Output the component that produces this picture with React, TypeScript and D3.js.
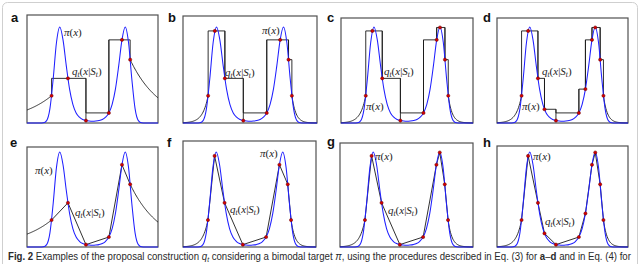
import React, { useLayoutEffect, useRef, useState } from 'react';
import * as d3 from 'd3';

// Target density pi(x) on a 0.2 grid over [-4, 4]
const targetX = d3.range(41).map((i) => +(-4 + i * 0.2).toFixed(1));
const targetY = [
  0, 0, 0, 0, 0, 0.002, 0.025, 0.149, 0.461, 0.838, 1.0, 0.866, 0.595, 0.353, 0.194, 0.105,
  0.06, 0.036, 0.025, 0.02, 0.018, 0.02, 0.025, 0.036, 0.06, 0.105, 0.194, 0.353, 0.595, 0.866,
  1.0, 0.838, 0.461, 0.149, 0.025, 0.002, 0, 0, 0, 0, 0,
];

// Support points S_t (red dots) and their pi values
const nodesA = [-2.5, -1.5, -0.4, 1.0, 1.8, 2.3];
const valuesA = [0.284, 0.465, 0.025, 0.105, 0.866, 0.66];
const nodesB = [-2.5, -2.1, -1.5, -0.4, 1.0, 1.8, 2.3, 2.5];
const valuesB = [0.284, 0.959, 0.465, 0.025, 0.105, 0.866, 0.66, 0.284];
const nodesC = [-2.5, -2.1, -1.5, -0.4, 1.0, 1.8, 2.0, 2.3, 2.5];
const valuesC = [0.284, 0.959, 0.465, 0.025, 0.105, 0.866, 0.995, 0.66, 0.284];
const nodesD = [-2.5, -2.1, -1.5, -1.1, -0.4, 1.0, 1.4, 1.8, 2.0, 2.3, 2.5];
const valuesD = [0.284, 0.959, 0.465, 0.143, 0.025, 0.105, 0.353, 0.866, 0.995, 0.66, 0.284];

const panelLetters = ['a', 'b', 'c', 'd', 'e', 'f', 'g', 'h'];
const panelKinds = ['step', 'step', 'step', 'step', 'linear', 'linear', 'linear', 'linear'];
const panelNodes = [nodesA, nodesB, nodesC, nodesD, nodesA, nodesB, nodesC, nodesD];
const panelValues = [valuesA, valuesB, valuesC, valuesD, valuesA, valuesB, valuesC, valuesD];
const xDomain = [-4, 4];

// Layout (pixels)
const layout = [
  { left: 27, right: 158, top: 15, bottom: 123, peak: 27, lx: 11, ly: 22, pi: [64, 36], q: [72, 75] },
  { left: 183, right: 317, top: 16, bottom: 123, peak: 27, lx: 168, ly: 22, pi: [262, 34], q: [225, 76] },
  { left: 341, right: 473, top: 18, bottom: 123, peak: 27, lx: 327, ly: 22, pi: [366, 110], q: [384, 75] },
  { left: 497, right: 628, top: 18, bottom: 123, peak: 27, lx: 483, ly: 22, pi: [522, 110], q: [542, 75] },
  { left: 27, right: 158, top: 147, bottom: 247, peak: 152, lx: 10, ly: 147, pi: [35, 174], q: [75, 216] },
  { left: 183, right: 316, top: 141, bottom: 247, peak: 152, lx: 167, ly: 147, pi: [260, 157], q: [230, 213] },
  { left: 340, right: 473, top: 143, bottom: 247, peak: 152, lx: 327, ly: 146, pi: [375, 160], q: [388, 214] },
  { left: 497, right: 628, top: 146, bottom: 247, peak: 152, lx: 483, ly: 147, pi: [533, 160], q: [545, 225] },
];

const MATH_FONT = '"Liberation Serif", "DejaVu Serif", serif';
const SANS = '"Liberation Sans", Arial, sans-serif';

function PiLabel({ x, y }: { x: number; y: number }) {
  return (
    <text x={x} y={y} fontFamily={MATH_FONT} fontSize={11} fill="#222">
      <tspan fontStyle="italic">π</tspan>
      <tspan>(</tspan>
      <tspan fontStyle="italic">x</tspan>
      <tspan>)</tspan>
    </text>
  );
}

function QLabel({ x, y }: { x: number; y: number }) {
  return (
    <text x={x} y={y} fontFamily={MATH_FONT} fontSize={11} fill="#222">
      <tspan fontStyle="italic">q</tspan>
      <tspan fontStyle="italic" fontSize={7.5} dy={2}>t</tspan>
      <tspan dy={-2}>(</tspan>
      <tspan fontStyle="italic">x</tspan>
      <tspan>|</tspan>
      <tspan fontStyle="italic">S</tspan>
      <tspan fontStyle="italic" fontSize={7.5} dy={2}>t</tspan>
      <tspan dy={-2}>)</tspan>
    </text>
  );
}

function Panel({ i }: { i: number }) {
  const L = layout[i];
  const xs = d3.scaleLinear().domain(xDomain).range([L.left, L.right]);
  const ys = d3.scaleLinear().domain([0, 1]).range([L.bottom, L.peak]);
  const nodes = panelNodes[i];
  const vals = panelValues[i];
  const n = nodes.length;
  const kind = panelKinds[i];

  const lamL = Math.log(vals[1] / vals[0]) / (nodes[1] - nodes[0]);
  const lamR = Math.log(vals[n - 2] / vals[n - 1]) / (nodes[n - 1] - nodes[n - 2]);
  const tailL = d3.range(41).map((k) => {
    const x = xDomain[0] + ((nodes[0] - xDomain[0]) * k) / 40;
    return [x, vals[0] * Math.exp(lamL * (x - nodes[0]))];
  });
  const tailR = d3.range(41).map((k) => {
    const x = nodes[n - 1] + ((xDomain[1] - nodes[n - 1]) * k) / 40;
    return [x, vals[n - 1] * Math.exp(-lamR * (x - nodes[n - 1]))];
  });

  let body: number[][] = [];
  const levels: number[] = [];
  const extras: number[][] = [];
  if (kind === 'step') {
    for (let j = 0; j < n - 1; j++) levels.push(Math.max(vals[j], vals[j + 1]));
    body.push([nodes[0], vals[0]]);
    for (let j = 0; j < n - 1; j++) {
      body.push([nodes[j], levels[j]]);
      body.push([nodes[j + 1], levels[j]]);
    }
    body.push([nodes[n - 1], vals[n - 1]]);
    for (let j = 1; j < n - 1; j++) {
      const top = Math.max(levels[j - 1], levels[j]);
      extras.push([nodes[j], vals[j], top]);
    }
  } else {
    body = nodes.map((x, j) => [x, vals[j]]);
  }
  const qPts = [...tailL, ...body, ...tailR];
  const line = d3
    .line<number[]>()
    .x((d) => xs(d[0]))
    .y((d) => ys(d[1]));
  const blue = d3
    .line<number>()
    .x((d) => xs(d))
    .y((_d, k) => ys(targetY[k]))
    .curve(d3.curveMonotoneX);

  return (
    <g>
      <rect
        x={L.left}
        y={L.top}
        width={L.right - L.left}
        height={L.bottom - L.top}
        fill="#fff"
        stroke="#505050"
        strokeWidth={1.2}
      />
      <path d={line(qPts) || ''} fill="none" stroke="#1a1a1a" strokeWidth={0.9} />
      {extras.map((e, k) => (
        <line key={k} x1={xs(e[0])} x2={xs(e[0])} y1={ys(e[1])} y2={ys(e[2])} stroke="#1a1a1a" strokeWidth={0.9} />
      ))}
      <path d={blue(targetX) || ''} fill="none" stroke="#1f1fff" strokeWidth={1.05} />
      {nodes.map((x, k) => (
        <circle key={k} cx={xs(x)} cy={ys(vals[k])} r={1.6} fill="#d40000" stroke="#6a0000" strokeWidth={0.5} />
      ))}
      <PiLabel x={L.pi[0]} y={L.pi[1]} />
      <QLabel x={L.q[0]} y={L.q[1]} />
      <text x={L.lx} y={L.ly} fontFamily={SANS} fontWeight="bold" fontSize={13} fill="#111">
        {panelLetters[i]}
      </text>
    </g>
  );
}

function Caption() {
  const ref = useRef<SVGTextElement>(null);
  const [sx, setSx] = useState(1);
  useLayoutEffect(() => {
    if (ref.current) {
      const w = ref.current.getBBox().width;
      if (w > 0) setSx(624 / w);
    }
  }, []);
  return (
    <text
      ref={ref}
      transform={`translate(8,260) scale(${sx},1)`}
      x={0}
      y={0}
      fontFamily={SANS}
      fontSize={10}
      fill="#2a2a2a"
    >
      <tspan fontWeight="bold">Fig. 2</tspan>
      <tspan>{' Examples of the proposal construction '}</tspan>
      <tspan fontStyle="italic">q</tspan>
      <tspan fontStyle="italic" fontSize={7} dy={1.5}>t</tspan>
      <tspan dy={-1.5}>{' considering a bimodal target '}</tspan>
      <tspan fontStyle="italic">π</tspan>
      <tspan>{', using the procedures described in Eq. (3) for '}</tspan>
      <tspan fontWeight="bold">a</tspan>
      <tspan>–</tspan>
      <tspan fontWeight="bold">d</tspan>
      <tspan>{' and in Eq. (4) for'}</tspan>
    </text>
  );
}

export default function App() {
  return (
    <svg width={640} height={264} style={{ position: 'absolute', left: 0, top: 0, background: '#fff' }}>
      <rect x={0} y={0} width={640} height={264} fill="#fff" />
      <rect x={2.5} y={2.5} width={635} height={300} rx={5} fill="none" stroke="#cfcfcf" strokeWidth={1} />
      {panelLetters.map((_l, i) => (
        <Panel key={i} i={i} />
      ))}
      <Caption />
    </svg>
  );
}
